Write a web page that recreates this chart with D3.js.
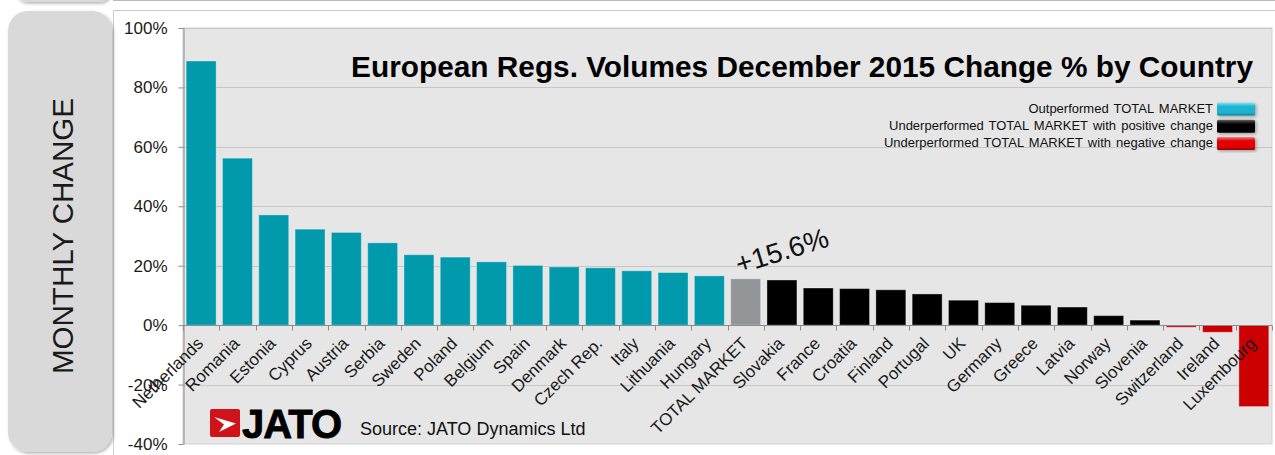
<!DOCTYPE html>
<html>
<head>
<meta charset="utf-8">
<script src="https://cdn.jsdelivr.net/npm/d3@7"></script>
<style>
  body { margin: 0; background: #fff; }
  svg { display: block; font-family: Arial, "Liberation Sans", sans-serif; }
</style>
</head>
<body>
<svg id="chart" width="1275" height="455"></svg>
<script>
// chart data
var categories = ["Netherlands", "Romania", "Estonia", "Cyprus", "Austria", "Serbia", "Sweden", "Poland",
  "Belgium", "Spain", "Denmark", "Czech Rep.", "Italy", "Lithuania", "Hungary", "TOTAL MARKET",
  "Slovakia", "France", "Croatia", "Finland", "Portugal", "UK", "Germany", "Greece", "Latvia",
  "Norway", "Slovenia", "Switzerland", "Ireland", "Luxembourg"];
var changes = [88.9, 56.2, 37.1, 32.3, 31.2, 27.7, 23.7, 22.9, 21.3, 20.1, 19.6, 19.3, 18.3, 17.7, 16.6,
  15.6, 15.2, 12.5, 12.3, 11.9, 10.5, 8.4, 7.6, 6.7, 6.1, 3.2, 1.7, -0.7, -2.4, -27.4];
var yTicks = [-40, -20, 0, 20, 40, 60, 80, 100];
var legendLabels = ["Outperformed TOTAL MARKET",
  "Underperformed TOTAL MARKET with positive change",
  "Underperformed TOTAL MARKET with negative change"];
var totalLabel = "TOTAL MARKET";

var svg = d3.select("#chart");
var plotL = 183, plotR = 1272, plotT = 28, plotB = 444;

var total = changes[categories.indexOf(totalLabel)];
function barColor(c, v) {
  if (c === totalLabel) return "#939598";
  if (v > total) return "#009aac";
  if (v >= 0) return "#000000";
  return "#cc0000";
}

// gradients for the bevelled legend keys
var defs = svg.append("defs");
[["gCyan", "#8fe3f2", "#1eb4d0", "#0b7f96"], ["gBlack", "#666", "#050505", "#000"], ["gRed", "#ff8080", "#e00000", "#900000"]]
  .forEach(function(g) {
    var lg = defs.append("linearGradient").attr("id", g[0]).attr("x1", 0).attr("y1", 0).attr("x2", 0).attr("y2", 1);
    lg.append("stop").attr("offset", "0").attr("stop-color", g[1]);
    lg.append("stop").attr("offset", "0.3").attr("stop-color", g[2]);
    lg.append("stop").attr("offset", "0.8").attr("stop-color", g[2]);
    lg.append("stop").attr("offset", "1").attr("stop-color", g[3]);
  });
var sh = defs.append("filter").attr("id", "shadow").attr("x", "-10%").attr("y", "-10%").attr("width", "130%").attr("height", "130%");
sh.append("feDropShadow").attr("dx", 1.5).attr("dy", 1.5).attr("stdDeviation", 1.5).attr("flood-color", "#000").attr("flood-opacity", 0.3);

// frame pieces
svg.append("rect").attr("x", 15).attr("y", -30).attr("width", 96).attr("height", 32).attr("rx", 12)
  .attr("fill", "#d9d9d9").attr("filter", "url(#shadow)");
svg.append("line").attr("x1", 113).attr("x2", 1275).attr("y1", 0.5).attr("y2", 0.5).attr("stroke", "#bbb");
svg.append("line").attr("x1", 113).attr("x2", 1275).attr("y1", 10.5).attr("y2", 10.5).attr("stroke", "#c8c8c8");
svg.append("line").attr("x1", 113.5).attr("x2", 113.5).attr("y1", 10).attr("y2", 455).attr("stroke", "#d0d0d0");
svg.append("rect").attr("x", 8).attr("y", 11).attr("width", 104).attr("height", 441).attr("rx", 20)
  .attr("fill", "#d9d9d9").attr("filter", "url(#shadow)");
svg.append("text").attr("transform", "translate(73,236) rotate(-90)")
  .attr("text-anchor", "middle").attr("font-size", 29.5).attr("fill", "#1a1a1a").text("MONTHLY CHANGE");

// scales
var x = d3.scaleBand().domain(categories).range([plotL, plotR]).paddingInner(0.174).paddingOuter(0.087);
var y = d3.scaleLinear().domain([-40, 100]).range([plotB, plotT]);

svg.append("rect").attr("x", plotL).attr("y", plotT).attr("width", plotR - plotL).attr("height", plotB - plotT)
  .attr("fill", "#e6e6e6").attr("stroke", "#d2d2d2");

// gridlines
svg.append("g").selectAll("line").data(yTicks.filter(function(t) { return t !== 0 && t !== -40; }))
  .join("line").attr("x1", plotL).attr("x2", plotR)
  .attr("y1", function(d) { return Math.round(y(d)) + 0.5; }).attr("y2", function(d) { return Math.round(y(d)) + 0.5; })
  .attr("stroke", "#c6c6c6");

// y axis
var yAxis = svg.append("g").attr("transform", "translate(" + (plotL + 0.5) + ",0)")
  .call(d3.axisLeft(y).tickValues(yTicks).tickSize(5).tickSizeOuter(0).tickPadding(11)
    .tickFormat(function(d) { return d + "%"; }));
yAxis.select(".domain").attr("stroke", "#8c8c8c");
yAxis.selectAll(".tick line").attr("stroke", "#8c8c8c");
yAxis.selectAll(".tick text").attr("font-size", 17).attr("fill", "#1a1a1a").attr("font-family", "Arial, 'Liberation Sans', sans-serif");

// bars
svg.append("g").selectAll("rect").data(categories).join("rect")
  .attr("x", function(c) { return x(c); })
  .attr("width", x.bandwidth())
  .attr("y", function(c, i) { return y(Math.max(0, changes[i])); })
  .attr("height", function(c, i) { return Math.abs(y(changes[i]) - y(0)); })
  .attr("fill", function(c, i) { return barColor(c, changes[i]); })
  .attr("stroke", "rgba(255,255,255,0.35)").attr("stroke-width", 1);

// x axis: zero line, category boundary ticks, rotated labels
var zeroY = Math.round(y(0)) + 0.5;
svg.append("line").attr("x1", plotL).attr("x2", plotR).attr("y1", zeroY).attr("y2", zeroY).attr("stroke", "#8c8c8c");
svg.append("g").selectAll("line").data(d3.range(categories.length + 1)).join("line")
  .attr("x1", function(i) { return Math.round(plotL + i * x.step()) + 0.5; })
  .attr("x2", function(i) { return Math.round(plotL + i * x.step()) + 0.5; })
  .attr("y1", zeroY).attr("y2", zeroY + 5).attr("stroke", "#8c8c8c");

var xAxis = svg.append("g").attr("transform", "translate(0," + zeroY + ")")
  .call(d3.axisBottom(x).tickSize(0));
xAxis.select(".domain").remove();
xAxis.selectAll(".tick text")
  .attr("x", 0).attr("y", 0).attr("dy", 0)
  .attr("text-anchor", "end")
  .attr("transform", "translate(3,19) rotate(-45)")
  .attr("font-size", 17).attr("fill", "#1a1a1a").attr("font-family", "Arial, 'Liberation Sans', sans-serif");

// title
svg.append("text").attr("x", 1253).attr("y", 77).attr("text-anchor", "end")
  .attr("font-size", 29.8).attr("font-weight", "bold").attr("fill", "#000")
  .text("European Regs. Volumes December 2015 Change % by Country");

// legend
var legendFills = ["url(#gCyan)", "url(#gBlack)", "url(#gRed)"];
var lg = svg.append("g").selectAll("g").data(legendLabels).join("g")
  .attr("transform", function(d, i) { return "translate(0," + (102.5 + i * 17.2) + ")"; });
lg.append("text").attr("x", 1213).attr("y", 10.5).attr("text-anchor", "end")
  .attr("font-size", 13).attr("word-spacing", 1.5).attr("fill", "#111").text(function(d) { return d; });
lg.append("rect").attr("x", 1217).attr("y", 0).attr("width", 38).attr("height", 13).attr("rx", 1.5)
  .attr("fill", function(d, i) { return legendFills[i]; }).attr("filter", "url(#shadow)");

// total market annotation
svg.append("text").attr("transform", "translate(739,274) rotate(-17)")
  .attr("font-size", 28).attr("fill", "#111").text("+" + total + "%");

// logo and source
var logo = svg.append("g").attr("transform", "translate(210,409)");
logo.append("rect").attr("width", 30).attr("height", 28).attr("rx", 2).attr("fill", "#d0121b");
logo.append("path").attr("d", "M4,8 L26,14.5 L9,23 L14,15.5 Z").attr("fill", "#fff");
svg.append("text").attr("x", 242).attr("y", 438).attr("font-size", 40).attr("font-weight", "bold")
  .attr("letter-spacing", -1).attr("fill", "#000").attr("stroke", "#000").attr("stroke-width", 0.8).text("JATO");
svg.append("text").attr("x", 360).attr("y", 435).attr("font-size", 18).attr("fill", "#111")
  .text("Source: JATO Dynamics Ltd");
</script>
</body>
</html>
